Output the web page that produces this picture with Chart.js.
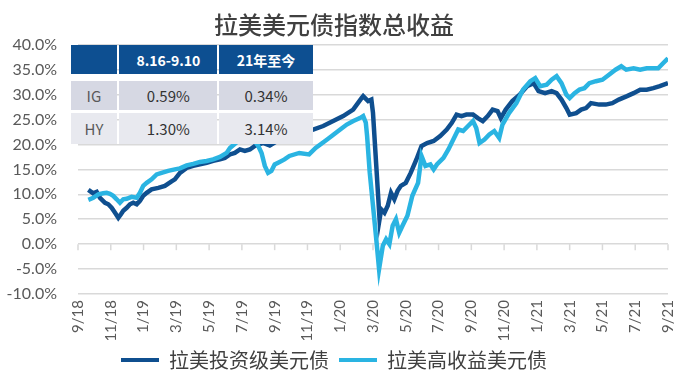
<!DOCTYPE html>
<html>
<head>
<meta charset="utf-8">
<script src="https://cdn.jsdelivr.net/npm/chart.js@4"></script>
<style>
  html, body { margin: 0; padding: 0; background: #ffffff; }
  #wrap { position: relative; width: 692px; height: 383px; }
  #c { position: absolute; left: 0; top: 0; }
  #tbl { position: absolute; left: 0; top: 0; width: 692px; height: 383px; pointer-events: none; }
  .cell { position: absolute; display: flex; align-items: center; justify-content: center;
          font-family: "Noto Sans CJK SC", Lato, sans-serif; }
  .hd { background: #0d4f91; color: #ffffff; font-weight: bold; font-size: 14px; }
  .r1 { background: #d6d8e3; color: #333333; font-size: 15px; }
  .r2 { background: #e8e9ef; color: #333333; font-size: 15px; }
  .lab { color: #595959; }
</style>
</head>
<body>
<div id="wrap">
  <canvas id="c" width="692" height="383"></canvas>
  <div id="tbl"></div>
</div>
<script>
// ---- data (months since Sep 2018 on x; total return in % on y) ----
const chartTitle = '拉美美元债指数总收益';
const seriesNames = ['拉美投资级美元债', '拉美高收益美元债'];
const xTickLabels = ['9/18','11/18','1/19','3/19','5/19','7/19','9/19','11/19','1/20','3/20',
                     '5/20','7/20','9/20','11/20','1/21','3/21','5/21','7/21','9/21'];

const igMonths = [0.63,0.93,1.14,1.34,1.65,1.85,2.05,2.26,2.46,2.62,2.76,2.97,3.17,3.37,3.58,3.78,3.98,4.19,4.49,4.9,
  5.3,5.71,5.91,6.22,6.63,7.03,7.44,7.85,8.25,8.66,8.96,9.27,9.57,9.88,10.18,10.49,10.79,11.3,11.7,12.2,
  12.8,13.4,13.9,14.35,14.96,15.57,16.18,16.79,17.3,17.4,17.7,17.9,18.0,18.2,18.4,18.5,18.7,18.9,19.1,19.3,
  19.5,19.7,20.0,20.3,20.65,20.96,21.3,21.7,22.1,22.5,22.8,23.1,23.4,23.7,24.1,24.4,24.7,25.0,25.3,25.6,
  25.8,26.1,26.5,26.95,27.4,27.8,28.1,28.5,28.9,29.2,29.5,29.8,30.0,30.4,30.7,31.0,31.3,31.8,32.2,32.6,
  33.0,33.5,33.9,34.3,34.7,35.1,35.5,36.0];
const igValues = [10.9,10.2,10.5,9.3,8.3,8.0,7.3,6.3,5.3,6.0,6.7,7.3,8.0,8.3,8.0,8.7,9.7,10.3,11.0,11.3,
  11.7,12.6,13.0,14.3,15.3,15.7,16.0,16.3,16.7,17.0,17.3,18.0,18.3,19.0,18.7,19.0,19.7,20.3,19.8,20.8,
  21.6,22.0,22.6,23.0,23.7,24.7,25.7,27.0,29.3,29.7,28.7,29.0,26.3,15.7,5.0,7.0,6.3,7.7,10.3,9.0,
  10.7,11.7,12.3,14.3,17.0,19.7,20.3,20.7,21.7,23.0,24.3,26.0,25.7,26.0,26.0,25.3,24.7,25.7,27.0,26.7,
  25.3,27.0,28.7,30.0,31.7,32.3,30.7,30.3,30.7,30.3,29.0,27.3,26.0,26.3,27.0,27.3,28.3,28.0,28.0,28.3,
  29.0,29.7,30.3,31.0,31.0,31.3,31.7,32.3];

const hyMonths = [0.63,0.93,1.24,1.54,1.75,1.95,2.15,2.36,2.56,2.76,2.97,3.27,3.58,3.78,3.98,4.19,4.49,4.8,5.1,5.5,
  5.91,6.22,6.63,7.03,7.44,7.85,8.25,8.66,9.07,9.27,9.7,10.2,10.7,11.0,11.2,11.4,11.6,11.8,12.0,12.3,
  12.6,12.9,13.5,14.1,14.5,15.2,15.6,16.0,16.4,16.8,17.2,17.4,17.56,17.64,17.8,18.0,18.2,18.37,18.6,18.8,
  19.0,19.2,19.4,19.6,19.8,20.1,20.4,20.75,20.96,21.2,21.5,21.7,21.9,22.3,22.6,22.9,23.2,23.5,23.8,24.1,
  24.3,24.5,24.8,25.1,25.4,25.7,25.9,26.3,26.75,27.15,27.6,27.9,28.2,28.6,28.9,29.2,29.5,29.8,30.0,30.3,
  30.6,30.9,31.2,31.6,32.0,32.4,32.8,33.15,33.45,33.9,34.3,34.7,35.1,35.4,35.7,36.0];
const hyValues = [8.9,9.3,10.0,10.2,10.3,10.1,9.7,9.0,8.3,9.0,9.1,9.5,9.3,10.3,11.7,12.3,13.0,14.0,14.3,14.7,
  15.0,15.2,15.8,16.1,16.5,16.7,17.0,17.5,18.3,19.3,20.5,21.3,21.0,19.7,18.3,15.7,14.3,14.7,16.0,16.5,
  17.0,17.7,18.3,18.0,19.3,21.0,22.0,23.0,24.0,24.7,25.3,25.7,24.4,21.7,14.4,7.7,1.0,-5.0,-0.3,1.0,
  0.0,3.7,5.0,2.3,3.7,5.7,9.7,12.3,17.7,15.7,16.0,15.0,16.0,17.3,19.0,21.0,23.0,22.7,23.7,24.7,
  23.3,20.3,21.0,22.0,22.7,21.3,24.0,26.3,28.3,31.0,32.7,33.3,31.7,32.0,33.0,33.7,32.3,30.0,29.3,30.3,
  31.0,31.3,32.3,32.7,33.0,34.0,35.0,35.7,35.0,35.3,35.0,35.3,35.3,35.3,36.3,37.3];

const tableHeader = ['', '8.16-9.10', '21年至今'];
const tableRows = [['IG', '0.59%', '0.34%'], ['HY', '1.30%', '3.14%']];

const colors = ['#0f4f8f', '#2ab4e2'];

// ---- build ----
function pts(xs, ys) { return xs.map((x, i) => ({ x: x, y: ys[i] })); }

const zeroTicks = {
  id: 'zeroTicks',
  beforeDatasetsDraw(chart) {
    const xs = chart.scales.x, ys = chart.scales.y, ctx = chart.ctx;
    const y0 = ys.getPixelForValue(0);
    ctx.save();
    ctx.strokeStyle = '#d9d9d9';
    ctx.lineWidth = 1.5;
    xs.ticks.forEach(t => {
      const px = xs.getPixelForValue(t.value);
      ctx.beginPath(); ctx.moveTo(px, y0); ctx.lineTo(px, y0 + 6); ctx.stroke();
    });
    ctx.restore();
  }
};

new Chart(document.getElementById('c'), {
  type: 'line',
  data: {
    datasets: [
      { label: seriesNames[0], data: pts(igMonths, igValues), borderColor: colors[0], backgroundColor: colors[0],
        borderWidth: 4.5, pointRadius: 0, tension: 0, order: 1 },
      { label: seriesNames[1], data: pts(hyMonths, hyValues), borderColor: colors[1], backgroundColor: colors[1],
        borderWidth: 4.5, pointRadius: 0, tension: 0, order: 0 }
    ]
  },
  options: {
    responsive: false,
    animation: false,
    layout: { padding: { left: 0, right: 24, top: 0, bottom: 3 } },
    scales: {
      x: {
        type: 'linear', min: 0, max: 36,
        grid: { display: false, drawTicks: false },
        border: { display: false },
        afterFit(s) { s.height = 46; },
        ticks: {
          stepSize: 2, autoSkip: false, maxRotation: 90, minRotation: 90, padding: 6,
          color: '#595959', font: { family: 'Lato', size: 15 },
          callback: v => xTickLabels[Math.round(v / 2)]
        }
      },
      y: {
        min: -10, max: 40,
        grid: { color: '#d9d9d9', lineWidth: 1.5, drawTicks: false },
        border: { display: false },
        afterFit(s) { s.width = 78; },
        ticks: {
          stepSize: 5, padding: 21, color: '#595959', font: { family: 'Lato', size: 16 },
          callback: v => v.toFixed(1) + '%'
        }
      }
    },
    plugins: {
      title: {
        display: true, text: chartTitle, color: '#404040',
        font: { family: 'Noto Sans CJK SC', size: 24, weight: '500' },
        padding: { top: 10, bottom: 6 }
      },
      legend: {
        position: 'bottom',
        labels: {
          boxWidth: 38, boxHeight: 4, padding: 10, color: '#404040',
          font: { family: 'Noto Sans CJK SC', size: 20 },
          generateLabels(chart) {
            return chart.data.datasets.map((d, i) => ({
              text: d.label, fillStyle: d.borderColor, strokeStyle: d.borderColor,
              lineWidth: 0, fontColor: '#404040', datasetIndex: i, hidden: false
            }));
          }
        }
      },
      tooltip: { enabled: false }
    }
  },
  plugins: [zeroTicks]
});

// ---- overlay table ----
const colX = [[70.7, 117.3], [119.3, 217.3], [219.3, 312.7]];
const rowY = [[45, 74.3, 'hd'], [81, 110.3, 'r1'], [112.7, 143.7, 'r2']];
const tbl = document.getElementById('tbl');
const allRows = [tableHeader].concat(tableRows);
allRows.forEach((row, r) => {
  row.forEach((txt, c) => {
    const d = document.createElement('div');
    d.className = 'cell ' + rowY[r][2] + (c === 0 && r > 0 ? ' lab' : '');
    d.style.left = colX[c][0] + 'px';
    d.style.width = (colX[c][1] - colX[c][0]) + 'px';
    d.style.top = rowY[r][0] + 'px';
    d.style.height = (rowY[r][1] - rowY[r][0]) + 'px';
    d.textContent = txt;
    tbl.appendChild(d);
  });
});
</script>
</body>
</html>
